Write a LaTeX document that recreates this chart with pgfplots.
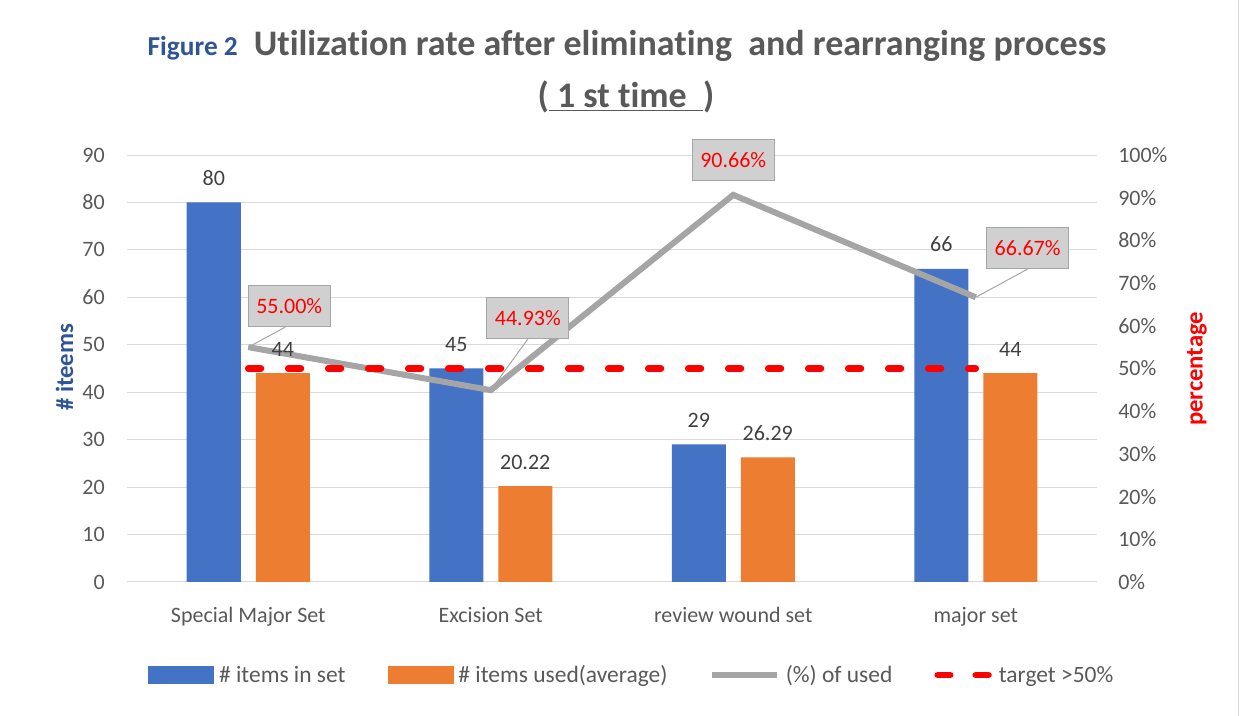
\documentclass[border=0pt]{standalone}
\usepackage{pgfplots}
\pgfplotsset{compat=1.18}
\usepackage{fontspec}
\setmainfont{Carlito}[Ligatures=NoCommon]
\definecolor{barblue}{HTML}{4472C4}
\definecolor{barorange}{HTML}{ED7D31}
\definecolor{linegray}{HTML}{A5A5A5}
\definecolor{gridgray}{HTML}{D9D9D9}
\definecolor{ticktext}{HTML}{595959}
\definecolor{labeltext}{HTML}{404040}
\definecolor{titleblue}{HTML}{2F5597}
\definecolor{titlegray}{HTML}{595959}
\definecolor{boxfill}{HTML}{D0D0D0}
\definecolor{boxdraw}{HTML}{A6A6A6}
\definecolor{tred}{HTML}{FF0000}
\pgfplotsset{/pgf/number format/assume math mode=true}
\pgfplotstableread{
cat items used pct
0 80 44 55
1 45 20.22 44.93
2 29 26.29 90.66
3 66 44 66.67
}\datatab
\begin{document}
\begin{tikzpicture}
\path[use as bounding box] (0,0) rectangle (934.5pt,537pt);
\draw[gridgray, line width=0.75pt] (928.5pt,0) -- (928.5pt,537pt);
\node[anchor=base, text=titlegray, font=\bfseries, inner sep=0pt] at (470.25pt,495pt)
 {{\color{titleblue}\fontsize{20.5}{24}\selectfont Figure 2}\hspace{12pt}{\fontsize{27}{32}\selectfont Utilization rate after eliminating\ \ and rearranging process}};
\node[anchor=base, text=titlegray, font=\bfseries\fontsize{27}{32}\selectfont, inner sep=0pt] at (469.5pt,456pt)
 {(\underline{\ 1 st time\ \ })};

% axis 1: bars, grid, left axis
\begin{axis}[
  at={(95.25pt,100.5pt)}, anchor=south west,
  scale only axis, width=727.5pt, height=320.25pt,
  xmin=-0.5, xmax=3.5, ymin=0, ymax=90,
  ytick={0,10,...,90},
  xtick={0,1,2,3},
  xticklabels={Special Major Set, Excision Set, review wound set, major set},
  axis line style={draw=none},
  major tick length=0pt,
  ymajorgrids, grid style={gridgray, line width=0.75pt},
  ybar=11.25pt, bar width=40.5pt,
  tick label style={font=\fontsize{16.5}{20}\selectfont, text=ticktext},
  yticklabel style={anchor=east, xshift=-16.5pt, inner sep=0pt},
  xticklabel style={anchor=base, yshift=-30.75pt, inner sep=0pt},
  ylabel={\# iteems},
  every axis y label/.style={at={(axis description cs:-0.0644,0.503)}, rotate=90, anchor=center,
     font=\bfseries\fontsize{18.5}{22}\selectfont, text=titleblue},
]
\addplot[fill=barblue, draw=none] table[x=cat, y=items] {\datatab};
\addplot[fill=barorange, draw=none] table[x=cat, y=used] {\datatab};
\end{axis}

% axis 2: percentage line, target, right axis, legend
\begin{axis}[
  at={(95.25pt,100.5pt)}, anchor=south west,
  scale only axis, width=727.5pt, height=320.25pt,
  xmin=-0.5, xmax=3.5, ymin=0, ymax=100,
  ytick={0,10,...,100}, xtick=\empty,
  yticklabel pos=right,
  yticklabel={\pgfmathprintnumber{\tick}\%},
  axis line style={draw=none},
  major tick length=0pt,
  clip=false,
  tick label style={font=\fontsize{16.5}{20}\selectfont, text=ticktext},
  yticklabel style={anchor=west, xshift=15.75pt, inner sep=0pt},
  ylabel={percentage},
  every axis y label/.style={at={(axis description cs:1.103,0.499)}, rotate=90, anchor=center,
     font=\bfseries\fontsize{18.5}{22}\selectfont, text=tred},
  legend columns=4,
  legend style={at={(axis description cs:0.0216,-0.218)}, anchor=west, draw=none, fill=none,
     inner sep=0pt, font=\fontsize{17.6}{21}\selectfont, text=ticktext,
     nodes={inner sep=0pt},
     /tikz/every odd column/.append style={column sep=4pt},
     /tikz/every even column/.append style={column sep=31.5pt}},
  legend cell align=left,
]
\addlegendimage{legend image code/.code={\fill[barblue] (0pt,-6.4pt) rectangle (48.75pt,6.4pt);}}
\addlegendentry{\# items in set}
\addlegendimage{legend image code/.code={\fill[barorange] (0pt,-6.4pt) rectangle (48.75pt,6.4pt);}}
\addlegendentry{\# items used(average)}
\addplot[linegray, line width=4.5pt, no markers,
  legend image code/.code={\draw[linegray, line width=4.5pt] (0pt,0pt) -- (48.75pt,0pt);}]
  table[x=cat, y=pct] {\datatab};
\addlegendentry{(\%) of used}
\addplot[tred, line width=5pt, no markers, line cap=round, dash pattern=on 9.5pt off 20.5pt,
  legend image code/.code={\draw[tred, line width=5pt, line cap=round] (7pt,0pt) -- (16.3pt,0pt) (35.5pt,0pt) -- (46.3pt,0pt);}]
  coordinates {(0,50) (3,50)};
\addlegendentry{target >50\%}
\tikzset{pbox/.style={fill=boxfill, draw=boxdraw, line width=0.75pt, text=tred,
   font=\fontsize{16.5}{20}\selectfont, minimum width=61.5pt, minimum height=30.75pt, inner sep=0pt}}
\node[pbox] (b0) at (axis cs:0.169,64.6) {55.00\%};
\node[pbox] (b1) at (axis cs:1.153,61.8) {44.93\%};
\node[pbox] (b2) at (axis cs:2.0,98.8) {90.66\%};
\node[pbox] (b3) at (axis cs:3.214,78.2) {66.67\%};
\draw[boxdraw, line width=0.75pt] (axis cs:0,55) -- ([xshift=-3pt]b0.south);
\draw[boxdraw, line width=0.75pt] (axis cs:1,44.93) -- (b1.south);
\draw[boxdraw, line width=0.75pt] (axis cs:3,66.67) -- (b3.south);
\end{axis}

% axis 3: bar value labels on top
\begin{axis}[
  at={(95.25pt,100.5pt)}, anchor=south west,
  scale only axis, width=727.5pt, height=320.25pt,
  xmin=-0.5, xmax=3.5, ymin=0, ymax=90,
  xtick=\empty, ytick=\empty,
  axis line style={draw=none},
  ybar=11.25pt, bar width=40.5pt,
  nodes near coords,
  every node near coord/.append style={font=\fontsize{16.5}{20}\selectfont, text=labeltext, yshift=9pt},
]
\addplot[draw=none, fill=none] table[x=cat, y=items] {\datatab};
\addplot[draw=none, fill=none] table[x=cat, y=used] {\datatab};
\end{axis}
\end{tikzpicture}
\end{document}
